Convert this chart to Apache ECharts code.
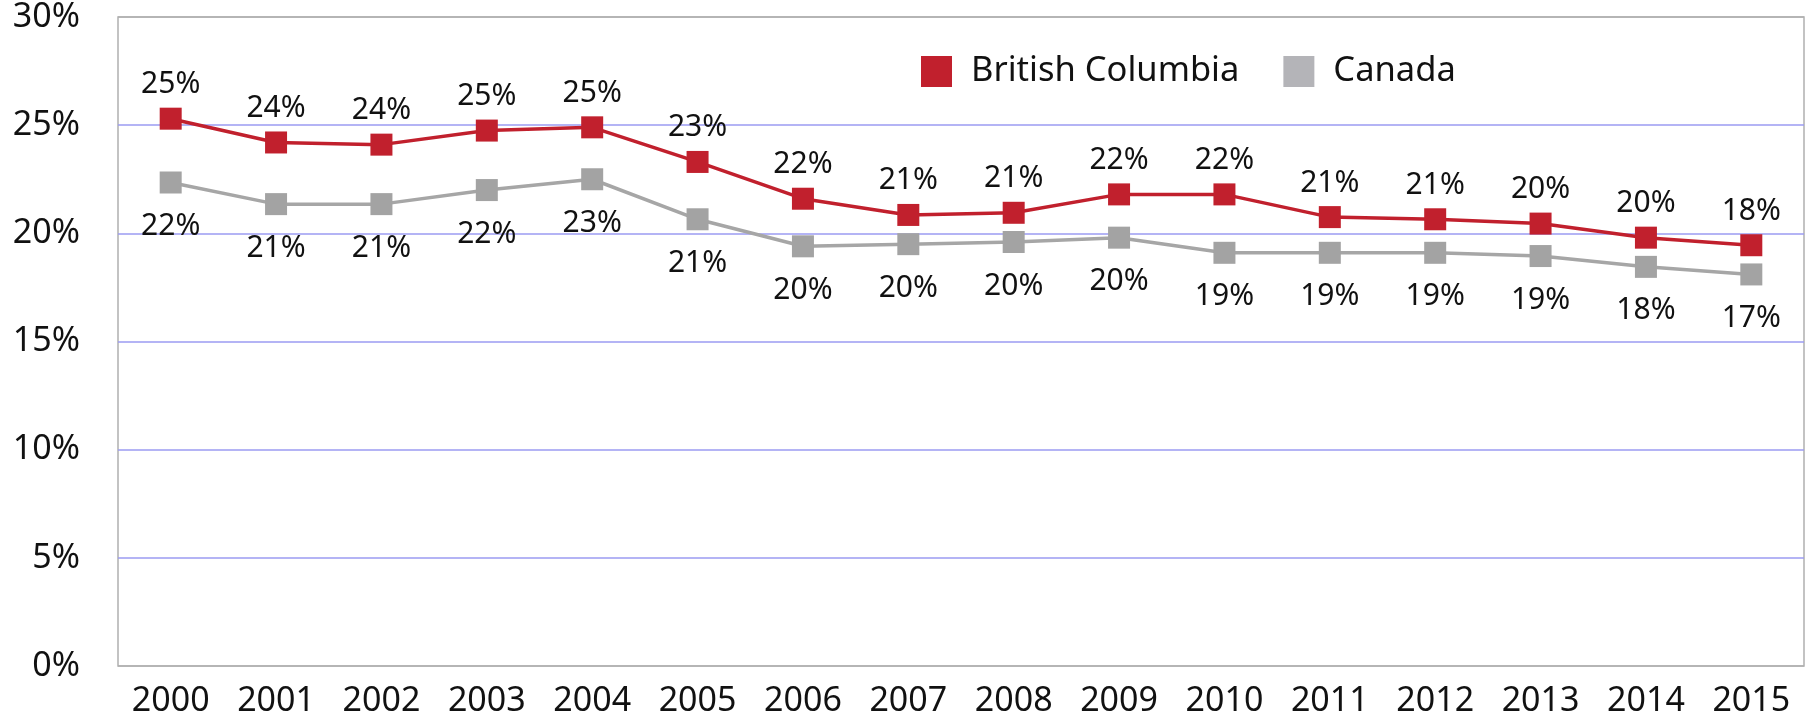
<!DOCTYPE html>
<html>
<head>
<meta charset="utf-8">
<script src="https://cdn.jsdelivr.net/npm/echarts@6/dist/echarts.min.js"></script>
<style>html,body{margin:0;padding:0;background:#fff;}#c{width:1819px;height:724px;}</style>
</head>
<body>
<div id="c"></div>
<script>
var years = ['2000','2001','2002','2003','2004','2005','2006','2007','2008','2009','2010','2011','2012','2013','2014','2015'];
var bcValues = [25.3, 24.2, 24.1, 24.75, 24.9, 23.3, 21.6, 20.85, 20.95, 21.8, 21.8, 20.75, 20.65, 20.45, 19.8, 19.45];
var canadaValues = [22.35, 21.35, 21.35, 22.0, 22.5, 20.65, 19.4, 19.5, 19.6, 19.8, 19.1, 19.1, 19.1, 18.95, 18.45, 18.1];
var bcLabels = ['25%','24%','24%','25%','25%','23%','22%','21%','21%','22%','22%','21%','21%','20%','20%','18%'];
var canadaLabels = ['22%','21%','21%','22%','23%','21%','20%','20%','20%','20%','19%','19%','19%','19%','18%','17%'];
var yTicks = [0, 5, 10, 15, 20, 25, 30];

var font = 'Noto Sans';
var chart = echarts.init(document.getElementById('c'), null, {renderer: 'canvas'});
chart.setOption({
  animation: false,
  textStyle: {fontFamily: font},
  grid: {left: 118, right: 15, top: 14, bottom: 58, show: true, borderColor: '#b0b0b0', borderWidth: 1.5},
  legend: {
    left: 916, top: 49,
    itemWidth: 31, itemHeight: 31, itemGap: 44,
    icon: 'rect',
    textStyle: {fontSize: 34.5, color: '#111', fontFamily: font, padding: [0, 0, 0, 14]},
    data: [
      {name: 'British Columbia', itemStyle: {color: '#C1202D'}},
      {name: 'Canada', itemStyle: {color: '#B4B4B8'}}
    ]
  },
  xAxis: {
    type: 'category',
    data: years,
    boundaryGap: true,
    axisLine: {show: false},
    axisTick: {show: false},
    axisLabel: {fontSize: 34, color: '#111', margin: 18, fontFamily: font}
  },
  yAxis: {
    type: 'value',
    min: yTicks[0], max: yTicks[yTicks.length - 1], interval: 5,
    axisLine: {show: false},
    axisTick: {show: false},
    axisLabel: {fontSize: 34, color: '#111', margin: 38, fontFamily: font, formatter: function (v) { return v + '%'; }},
    splitLine: {lineStyle: {width: 1.5, color: ['#b0b0b0', '#9b9bf2', '#9b9bf2', '#9b9bf2', '#9b9bf2', '#9b9bf2', '#b0b0b0']}}
  },
  series: [
    {
      name: 'British Columbia', type: 'line',
      data: bcValues,
      symbol: 'rect', symbolSize: 22,
      lineStyle: {color: '#C1202D', width: 3.5},
      itemStyle: {color: '#C1202D'},
      z: 3,
      label: {
        show: true, position: 'top', distance: 8,
        fontSize: 30, color: '#111', fontFamily: font,
        formatter: function (p) { return bcLabels[p.dataIndex]; }
      }
    },
    {
      name: 'Canada', type: 'line',
      data: canadaValues,
      symbol: 'rect', symbolSize: 22,
      lineStyle: {color: '#A6A6A6', width: 3.5},
      itemStyle: {color: '#A3A3A3'},
      z: 2,
      label: {
        show: true, position: 'bottom', distance: 18,
        fontSize: 30, color: '#111', fontFamily: font,
        formatter: function (p) { return canadaLabels[p.dataIndex]; }
      }
    }
  ]
});
</script>
</body>
</html>
